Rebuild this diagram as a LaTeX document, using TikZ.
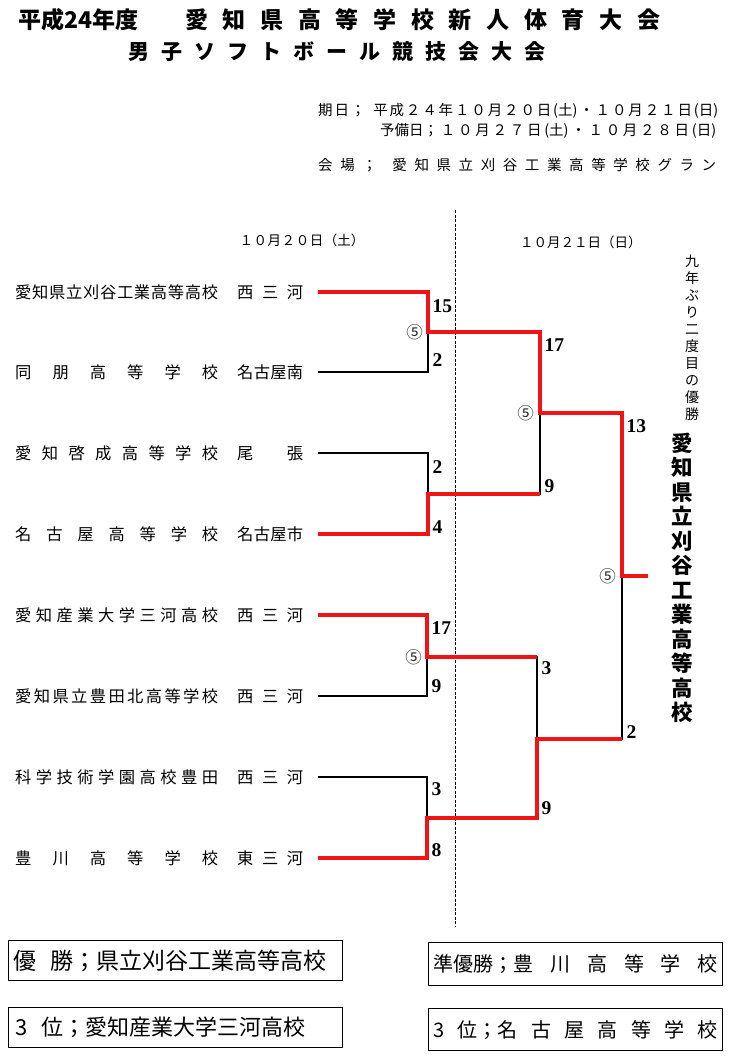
\documentclass[tikz,border=0pt]{standalone}
\usepackage{fontspec}
\setmainfont{Noto Sans CJK JP}
\newfontfamily\scorefont{Liberation Serif}
\usepackage{tikz}
\usetikzlibrary{positioning}
\definecolor{winred}{RGB}{240,20,22}
\newcommand{\setfs}[1]{\fontsize{#1}{#1}\selectfont}
\newcommand{\setfsl}[2]{\fontsize{#1}{#2}\selectfont}
\newcommand{\spread}[2]{\makebox[#1][s]{\spaceskip=0pt plus 1fil\relax #2}}
\newcommand{\tname}[2]{\spread{203pt}{#1}\hspace{19pt}\spread{66pt}{#2}}
\tikzstyle{team} = [anchor=west, inner sep=0pt, font=\setfs{16.3}]
\tikzstyle{score} = [anchor=west, inner sep=1pt, xshift=3pt, font=\scorefont\bfseries\setfs{19.5}]
\tikzstyle{called} = [inner sep=0pt, text=black!85, font=\setfs{16.5}]
\tikzstyle{result} = [draw, line width=1.2pt, inner sep=0pt, anchor=north west]
\tikzstyle{info} = [anchor=west, inner sep=0pt, font=\setfs{14.5}]

\begin{document}
\begin{tikzpicture}[x=1pt, y=-1pt,
    thinline/.style = {line width=1.1pt},
    win/.style = {draw=winred, line width=4pt}
  ]
  \useasboundingbox (0,0) rectangle (730,1057);
  \fill[white] (0,0) rectangle (730,1057);

  % Title and dates at the top
  \node [anchor=west, inner sep=0pt, font=\bfseries\setfs{23}] (year) at (18,20) {平成24年度};
  \node [anchor=west, inner sep=0pt, font=\bfseries\setfs{23}] (title) at (185,20) {\spread{475pt}{愛 知 県 高 等 学 校 新 人 体 育 大 会}};
  \node [anchor=west, inner sep=0pt, font=\bfseries\setfs{21}] (subtitle) at (128,52) {\spread{417pt}{男 子 ソ フ ト ボ ー ル 競 技 会 大 会}};
  \node [info] (dates) at (318,111) {\spread{400pt}{期 日 ；\hspace{6pt} 平 成 ２ ４ 年 １ ０ 月 ２ ０ 日 (土) ・ １ ０ 月 ２ １ 日 (日)}};
  \node [info] (spare) at (380,131) {\spread{336pt}{予備日； １ ０ 月 ２ ７ 日 (土) ・ １ ０ 月 ２ ８ 日 (日)}};
  \node [info] (venue) at (318,165) {\spread{398pt}{会 場 ；\hspace{8pt} 愛 知 県 立 刈 谷 工 業 高 等 学 校 グ ラ ン}};

  % Day headers and the dashed separator
  \node [font=\setfs{13.5}, inner sep=0pt] (day1) at (302,240) {\spread{125pt}{１ ０ 月 ２ ０ 日 （土）}};
  \node [font=\setfs{13.5}, inner sep=0pt] (day2) at (580,242) {\spread{120pt}{１ ０ 月 ２ １ 日 （日）}};
  \coordinate (sepTop) at (455,210);
  \coordinate (sepBot) at (455,927);
  \draw [line width=1pt, dash pattern=on 3pt off 1.5pt] (sepTop) -- (sepBot);

  % The eight teams
  \node [team] (t1) at (15,292) {\tname{愛 知 県 立 刈 谷 工 業 高 等 高 校}{西 三 河}};
  \node [team] (t2) at (15,372) {\tname{同 朋 高 等 学 校}{名 古 屋 南}};
  \node [team] (t3) at (15,453) {\tname{愛 知 啓 成 高 等 学 校}{尾 張}};
  \node [team] (t4) at (15,534) {\tname{名 古 屋 高 等 学 校}{名 古 屋 市}};
  \node [team] (t5) at (15,615) {\tname{愛 知 産 業 大 学 三 河 高 校}{西 三 河}};
  \node [team] (t6) at (15,696) {\tname{愛 知 県 立 豊 田 北 高 等 学 校}{西 三 河}};
  \node [team] (t7) at (15,777) {\tname{科 学 技 術 学 園 高 校 豊 田}{西 三 河}};
  \node [team] (t8) at (15,858) {\tname{豊 川 高 等 学 校}{東 三 河}};

  % Match points of the bracket
  \coordinate (m1) at (428,332);
  \coordinate (m2) at (428,494);
  \coordinate (m3) at (427,657);
  \coordinate (m4) at (427,818);
  \coordinate (m5) at (540,413);
  \coordinate (m6) at (537,739);
  \coordinate (m7) at (622,576);
  \coordinate (champ) at (648,576);

  % Thin bracket with the scores
  \draw [thinline] ([xshift=15pt]t1.east) -| node[score, pos=.675] {15} (m1) |- node[score, pos=.35] {2} ([xshift=15pt]t2.east);
  \draw [thinline] ([xshift=15pt]t3.east) -| node[score, pos=.67] {2} (m2) |- node[score, pos=.41] {4} ([xshift=15pt]t4.east);
  \draw [thinline] ([xshift=15pt]t5.east) -| node[score, pos=.655] {17} (m3) |- node[score, pos=.375] {9} ([xshift=15pt]t6.east);
  \draw [thinline] ([xshift=15pt]t7.east) -| node[score, pos=.65] {3} (m4) |- node[score, pos=.4] {8} ([xshift=15pt]t8.east);
  \draw [thinline] (m1) -| node[score, pos=.58] {17} (m5) |- node[score, pos=.45] {9} (m2);
  \draw [thinline] (m3) -| node[score, pos=.57] {3} (m6) |- node[score, pos=.44] {9} (m4);
  \draw [thinline] (m5) -| node[score, pos=.54] {13} (m7) |- node[score, pos=.48] {2} (m6);

  % Winners in red
  \draw [win] ([xshift=15pt]t1.east) -| (m1) -| (m5) -| (m7) -- (champ);
  \draw [win] ([xshift=15pt]t4.east) -| (m2) -- (m2 -| m5);
  \draw [win] ([xshift=15pt]t5.east) -| (m3) -- (m3 -| m6);
  \draw [win] ([xshift=15pt]t8.east) -| (m4) -| (m6) -- (m6 -| m7);

  % Called games (5 innings)
  \node [called, left=5pt of m1] (c1) {⑤};
  \node [called, left=5pt of m3] (c3) {⑤};
  \node [called, left=6pt of m5] (c5) {⑤};
  \node [called, left=6pt of m7] (c7) {⑤};

  % Champion written downwards
  \node [align=center, text width=16pt, inner sep=0pt, font=\setfsl{14}{17}] (note) at (692,338) {九\\年\\ぶ\\り\\二\\度\\目\\の\\優\\勝};
  \node [align=center, text width=24pt, inner sep=0pt, font=\bfseries\setfsl{21.5}{24.5}] (winner) at (682,578) {愛\\知\\県\\立\\刈\\谷\\工\\業\\高\\等\\高\\校};

  % Final standings
  \node [result, minimum width=334pt, minimum height=40pt, font=\setfs{23}] (first) at (8,940) {\makebox[324pt][l]{優\hspace{14pt}勝；県立刈谷工業高等高校}};
  \node [result, minimum width=294pt, minimum height=43pt, font=\setfs{20}] (second) at (428,942) {\spread{284pt}{準優勝；豊 川 高 等 学 校}};
  \node [result, minimum width=334pt, minimum height=40pt, font=\setfs{22}] (third1) at (8,1007) {\makebox[320pt][l]{3\hspace{14pt}位；愛知産業大学三河高校}};
  \node [result, minimum width=294pt, minimum height=42pt, font=\setfs{20}] (third2) at (428,1008) {\spread{284pt}{3 位；名 古 屋 高 等 学 校}};
\end{tikzpicture}
\end{document}
